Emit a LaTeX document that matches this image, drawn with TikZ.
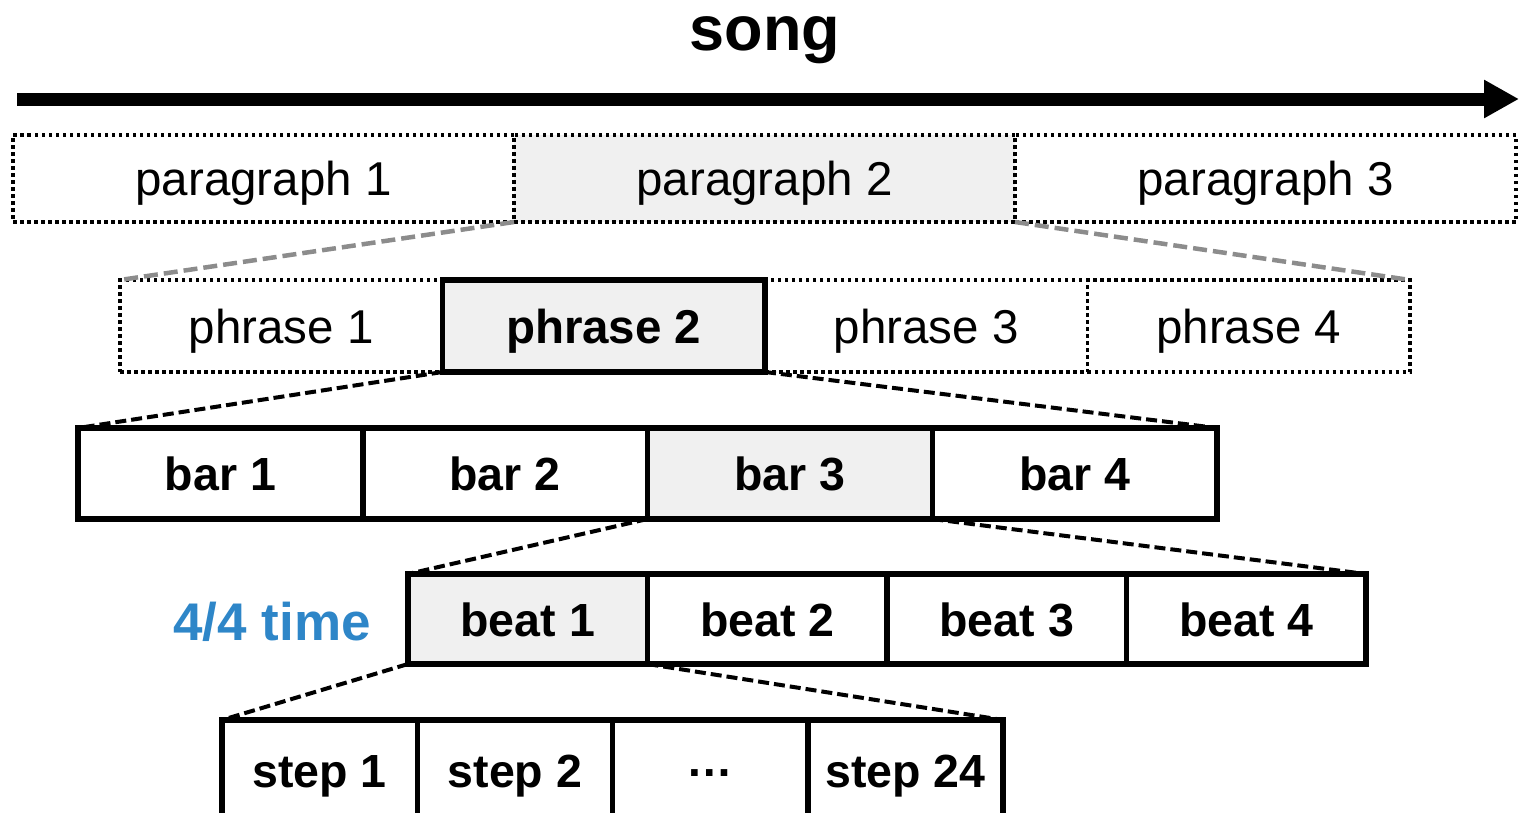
\documentclass[tikz,border=0pt]{standalone}
\usepackage{fontspec}
\setmainfont{Liberation Sans}
\usetikzlibrary{arrows.meta}
\definecolor{boxgray}{HTML}{F0F0F0}
\definecolor{linkgray}{HTML}{8C8C8C}
\definecolor{timeblue}{HTML}{2E86C8}
\tikzset{
  cell/.style={rectangle, inner sep=0pt, outer sep=0pt, font=\fontsize{47.5}{56}\selectfont, text height=34pt, text depth=0pt},
  dotbox/.style={cell, draw, line width=3.3pt, dash pattern=on 3.5pt off 3.5pt},
  solidbox/.style={cell, draw, line width=5.5pt, font=\fontsize{46.5}{55}\selectfont\bfseries},
  hl/.style={fill=boxgray},
  zoomgray/.style={draw=linkgray, line width=4.5pt, dash pattern=on 14pt off 6pt},
  zoomblack/.style={draw=black, line width=4pt, dash pattern=on 11pt off 5pt},
  pararow/.style={minimum width=501pt, minimum height=87pt},
  phrrow/.style={minimum width=322.5pt, minimum height=92pt},
  barrow/.style={minimum width=284.75pt, minimum height=91pt},
  beatrow/.style={minimum width=239.5pt, minimum height=90pt},
  steprow/.style={minimum width=195.25pt, minimum height=100pt},
}
\begin{document}
\begin{tikzpicture}[x=1pt,y=-1pt]
\useasboundingbox (0,0) rectangle (1519,812);
\clip (0,0) rectangle (1519,812);

% title and arrow
\node[anchor=base, font=\fontsize{63}{72}\selectfont\bfseries] (song) at (765,50) {song};
\coordinate (arrS) at (17,99);
\coordinate (arrE) at (1519,99);
\draw[line width=13pt, -{Triangle[length=35pt,width=36pt]}] (arrS) -- (arrE);

% paragraphs
\node[dotbox, pararow] (para1) at (263.5,178.5) {paragraph 1};
\node[dotbox, pararow, hl] (para2) at (764.5,178.5) {paragraph 2};
\node[dotbox, pararow] (para3) at (1265.5,178.5) {paragraph 3};

% phrases
\node[dotbox, phrrow] (phr1) at (281.25,326) {phrase 1};
\node[dotbox, phrrow] (phr3) at (926.25,326) {phrase 3};
\node[dotbox, phrrow] (phr4) at (1248.75,326) {phrase 4};
\node[solidbox, phrrow, hl, font=\fontsize{47.5}{56}\selectfont\bfseries] (phr2) at (603.75,326) {phrase 2};

\draw[zoomgray] (para2.south west) -- (phr1.north west);
\draw[zoomgray] (para2.south east) -- (phr4.north east);

% bars
\node[solidbox, barrow] (bar1) at (220.375,473.5) {bar 1};
\node[solidbox, barrow] (bar2) at (505.125,473.5) {bar 2};
\node[solidbox, barrow, hl] (bar3) at (789.875,473.5) {bar 3};
\node[solidbox, barrow] (bar4) at (1074.625,473.5) {bar 4};

\draw[zoomblack] (phr2.south west) -- (bar1.north west);
\draw[zoomblack] (phr2.south east) -- (bar4.north east);

% beats
\node[anchor=base, font=\fontsize{53}{62}\selectfont\bfseries, text=timeblue] (time) at (272,640) {4/4 time};
\node[solidbox, beatrow, hl] (beat1) at (527.75,619) {beat 1};
\node[solidbox, beatrow] (beat2) at (767.25,619) {beat 2};
\node[solidbox, beatrow] (beat3) at (1006.75,619) {beat 3};
\node[solidbox, beatrow] (beat4) at (1246.25,619) {beat 4};

\draw[zoomblack] (bar3.south west) -- (beat1.north west);
\draw[zoomblack] (bar3.south east) -- (beat4.north east);

% steps
\node[solidbox, steprow] (step1) at (319.625,770) {step 1};
\node[solidbox, steprow] (step2) at (514.875,770) {step 2};
\node[solidbox, steprow] (stepdots) at (710.125,770) {\raisebox{11pt}{…}};
\node[solidbox, steprow] (step24) at (905.375,770) {step 24};

\draw[zoomblack] (beat1.south west) -- (step1.north west);
\draw[zoomblack] (beat1.south east) -- (step24.north east);
\end{tikzpicture}
\end{document}
